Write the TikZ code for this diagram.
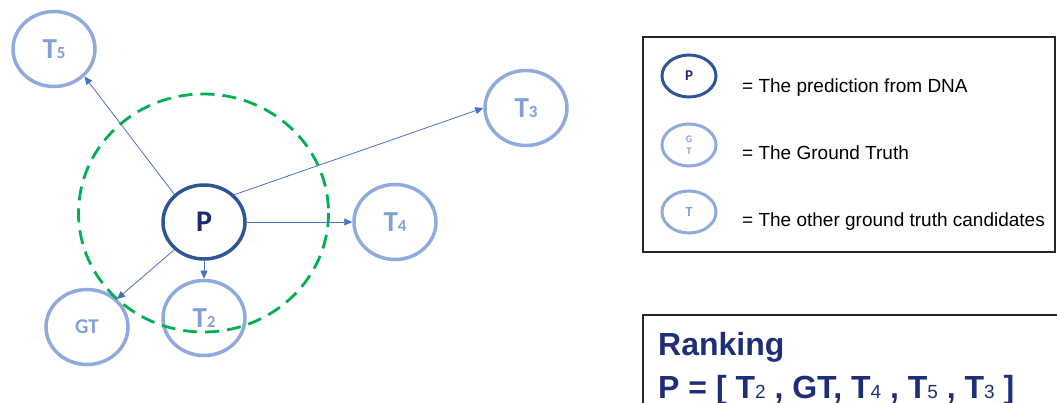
\documentclass[tikz,border=0pt]{standalone}
\usepackage{fontspec}
\setmainfont{Liberation Sans}
\newfontfamily\calibri{Carlito}
\usetikzlibrary{shapes.geometric,arrows.meta}

\definecolor{lightnode}{RGB}{143,170,220}
\definecolor{lighttext}{RGB}{128,160,216}
\definecolor{darknode}{RGB}{47,85,151}
\definecolor{navy}{RGB}{30,42,110}
\definecolor{arrowblue}{RGB}{68,114,196}
\definecolor{ringgreen}{RGB}{0,176,80}
\definecolor{rankblue}{RGB}{31,46,120}
\definecolor{boxline}{RGB}{38,38,38}

% small, regular-weight index digit after a bold letter
\newcommand\idx[2]{{\mdseries\fontsize{#1}{#1}\selectfont #2}}
% small index digit keeping the bold weight
\newcommand\bidx[2]{{\fontsize{#1}{#1}\selectfont #2}}

\tikzset{
  cand/.style={ellipse, draw=lightnode, line width=3.5pt, minimum width=82pt,
    minimum height=75pt, inner sep=0pt, text=lighttext,
    font=\calibri\bfseries\fontsize{29}{29}\selectfont},
  pred/.style={ellipse, draw=darknode, line width=3.5pt, minimum width=82pt,
    minimum height=74pt, inner sep=0pt, text=navy,
    font=\calibri\bfseries\fontsize{30}{30}\selectfont},
  link/.style={draw=arrowblue, line width=0.8pt, -{Triangle[length=8pt,width=7pt]}},
  keycand/.style={ellipse, draw=lightnode, line width=3pt, minimum width=54pt,
    minimum height=42pt, inner sep=0pt, text=lighttext, align=center,
    font=\calibri\bfseries\fontsize{14}{14}\selectfont},
  keypred/.style={ellipse, draw=darknode, line width=3pt, minimum width=54pt,
    minimum height=42pt, inner sep=0pt, text=navy,
    font=\calibri\bfseries\fontsize{15}{15}\selectfont},
  keytext/.style={anchor=base west, inner sep=0pt, text=black,
    font=\fontsize{19}{19}\selectfont},
  ranktext/.style={anchor=base west, inner sep=0pt, text=rankblue,
    font=\bfseries\fontsize{32}{32}\selectfont},
  frame/.style={draw=boxline, line width=1.8pt},
}

\begin{document}
\begin{tikzpicture}[x=1pt,y=-1pt]
\useasboundingbox (0,0) rectangle (1057,403);

% candidate nodes around the prediction
\node[pred] (P)  at (204,222) {P};
\node[cand] (T5) at (54,49)   {T\bidx{17}{5}};
\node[cand] (T3) at (526,108) {T\bidx{17}{3}};
\node[cand] (T4) at (395,222) {T\bidx{17}{4}};
\node[cand] (T2) at (204,318) {T\bidx{17}{2}};
\node[cand, font=\calibri\bfseries\fontsize{21}{21}\selectfont] (GT) at (87,327) {GT};

% neighbourhood ring
\draw[ringgreen, line width=2.8pt, dash pattern=on 14pt off 8pt]
  (203.5,213) ellipse [x radius=125, y radius=119];

% distances from the prediction
\draw[link] (P.137) -- (T5.318);
\draw[link] (P.42)  -- (T3.west);
\draw[link] (P.east) -- (T4.west);
\draw[link] (P.south) -- (T2.north);
\draw[link] (P.223) -- (GT.43);

% legend
\draw[frame] (643,37) rectangle (1055,252);
\node[keypred] (kP)  at (689,76)  {P};
\node[keycand, font=\calibri\bfseries\fontsize{10}{12}\selectfont] (kGT) at (689,145) {G\\T};
\node[keycand] (kT)  at (689,212) {T};
\node[keytext] (lP)  at (742,93)  {= The prediction from DNA};
\node[keytext] (lGT) at (742,160) {= The Ground Truth};
\node[keytext] (lT)  at (742,227) {= The other ground truth candidates};

% ranking box (runs off the lower right edge)
\draw[frame] (1060,315) -- (643,315) -- (643,410);
\node[ranktext] (rk)  at (658,355) {Ranking};
\node[ranktext] (rkl) at (658,398)
  {P = [ T\idx{19}{2} , GT, T\idx{19}{4} , T\idx{19}{5} , T\idx{19}{3} ]};
\end{tikzpicture}
\end{document}
